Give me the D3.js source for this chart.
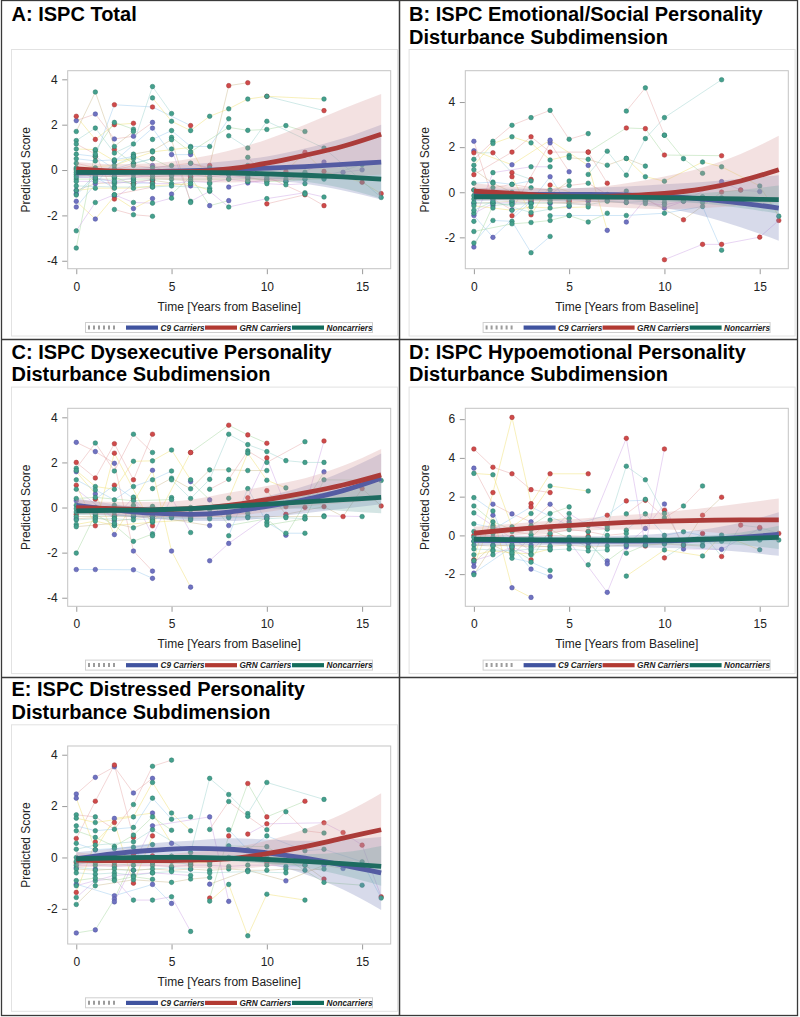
<!DOCTYPE html>
<html>
<head>
<meta charset="utf-8">
<script src="https://cdn.jsdelivr.net/npm/d3@7"></script>
<style>
  body { margin: 0; background: #fff; }
  svg text { font-family: "Liberation Sans", Arial, sans-serif; }
  .title { font-size: 20px; font-weight: bold; fill: #000; }
  .tick text { font-size: 12px; fill: #222; }
  .axis_tag { font-size: 12px; fill: #222; }
  .leg { font-size: 8.2px; font-weight: bold; font-style: italic; fill: #222; }
</style>
</head>
<body>
<div class="chart"></div>
<script>
// ---- shared ----
const xTicks = [0, 5, 10, 15];
const fitT = [0, 2, 4, 6, 8, 10, 12, 14, 16];
const groupNames = ["C9 Carriers", "GRN Carriers", "Noncarriers"];

// ---- A: ISPC Total ----
const titleA = ["A: ISPC Total"];
const yTicksA = [-4, -2, 0, 2, 4];
const aC9 = [
  [[0,2.18],[1,2.47],[2,1.37],[3,1.49],[4,2.1]],
  [[0,-1.38],[1,-2.16],[2,-1.16],[3,-1.7],[4,-1.26]],
  [[0,-1.63],[2,0.38],[4,1.85],[5,0.68],[6,0.68]],
  [[5,-1.06],[6,-0.3],[7,-1.57],[8,-1.35]],
  [[8,-0.75],[9,-0.57],[10,-0.4],[14,-0.1],[15,0.01]],
  [[0,-0.9],[1,-0.6],[2,-0.55],[3,-0.5],[4,-0.45],[6,-0.7]],
  [[0,-1.05],[1,-0.2],[3,0.6],[4,0.2],[5,-0.2]],
  [[6,0.3],[8,-0.2],[9,-0.35],[11,-0.5],[13,0.35]]
];
const aGRN = [
  [[0,2.37],[1,1.35],[2,2.0],[3,2.06]],
  [[1,0.6],[2,2.88],[4,2.78],[6,1.96]],
  [[2,0.9],[3,0.28],[4,0.5],[6,-0.3]],
  [[2,-1.28],[3,-0.6],[4,-0.4]],
  [[7,0.2],[8,3.72],[9,3.85]],
  [[10,3.25],[13,2.62]],
  [[10,-1.49],[12,-1.09],[13,-1.57]],
  [[11,-0.06],[12,0.78],[13,-0.06],[15,-0.54],[16,-1.04]],
  [[0,0.05],[1,-0.4],[3,-0.6],[4,-0.55]]
];
const aNC = [
  [[0,-3.44],[1,0.85],[2,2.1],[3,1.8]],
  [[0,-2.68],[1,-1.43],[2,-1.09],[3,-1.43],[4,-1.46],[5,-1.24]],
  [[0,1.7],[1,3.44],[2,1.04],[3,1.7]],
  [[0,1.3],[1,1.85],[2,0.75],[3,1.15],[4,3.68],[5,2.49]],
  [[2,-1.74],[3,-1.97],[4,-2.04]],
  [[4,3.18],[5,2.15],[6,1.74],[7,2.37],[8,2.7],[9,3.13],[10,3.25],[13,3.13]],
  [[4,1.35],[5,1.74],[6,1.04],[7,1.04],[8,2.26]],
  [[5,1.44],[6,0.8],[8,1.88],[9,1.75],[10,1.79],[11,1.96],[12,1.7]],
  [[5,0.93],[6,-1.38],[7,-0.94],[8,-1.63],[10,-1.26],[12,-1.0],[13,-1.19]],
  [[3,0.7],[4,0.85],[5,1.34],[6,-1.43]],
  [[8,1.51],[9,0.97],[10,2.15],[13,0.97],[16,-1.21]],
  [[9,0.56],[10,-0.3],[12,-1.06]],
  [[0,0.93],[1,0.9],[2,0.4],[3,0.5]],
  [[0,0.7],[1,0.6],[2,0.05],[3,0.3],[4,0.5]],
  [[0,-0.4],[1,-0.4],[2,-0.4],[3,-0.4],[4,-0.4],[5,-0.4],[6,-0.4],[7,-0.4],[8,-0.4],[9,-0.4],[10,-0.4],[11,-0.4],[12,-0.4],[13,-0.4]],
  [[0,-0.5],[1,-0.5],[2,-0.6],[3,-0.5],[4,-0.6],[5,-0.6],[6,-0.5],[7,-0.55],[8,-0.4],[9,-0.5],[10,-0.5]],
  [[0,-0.2],[1,-0.25],[2,-0.3],[3,-0.2],[4,-0.3],[5,-0.25],[6,-0.2],[7,-0.3],[8,-0.2]],
  [[0,-0.7],[2,-0.75],[4,-0.75],[5,-0.7],[7,-0.8]],
  [[0,0.3],[1,0.1],[2,0.0],[3,0.2],[4,0.1],[5,0.2],[6,0.3],[7,0.1]],
  [[0,-0.9],[1,-0.8],[3,-0.8],[4,-0.7],[6,-0.6],[7,-0.9]],
  [[0,0.5],[1,0.4],[2,0.45],[3,0.6]],
  [[9,-0.3],[10,-0.5],[11,-0.5],[12,-0.4],[13,-0.35]],
  [[9,-0.5],[10,-0.6],[11,-0.65],[12,-0.6]],
  [[0,-0.1],[1,-0.1],[2,-0.15],[3,-0.1],[5,-0.1],[6,-0.1],[7,-0.15],[8,-0.1],[9,-0.15]],
  [[9,0.2],[11,-0.2],[12,-0.1],[13,-0.3],[15,0.24]],
  [[0,1.15],[1,0.7],[2,-1.09],[4,-0.75]],
  [[0,0.1],[2,0.2],[4,0.8],[6,1.0],[7,-0.6]],
  [[0,-1.1],[1,-0.3],[2,-0.8]],
  [[0,0.0],[1,0.0],[2,-0.3],[3,-0.65]],
  [[0,-0.3],[1,-0.35],[2,-0.5],[3,-0.35],[4,-0.2]]
];
const aFitC9 = [-0.12, -0.1, -0.07, -0.03, 0.02, 0.08, 0.15, 0.25, 0.35];
const aFitGRN = [0.05, -0.05, -0.08, -0.07, 0.05, 0.3, 0.65, 1.05, 1.58];
const aFitNC = [-0.1, -0.1, -0.1, -0.1, -0.12, -0.17, -0.23, -0.3, -0.4];
const aBandC9 = [[-0.35,0.1],[-0.3,0.1],[-0.3,0.15],[-0.3,0.25],[-0.35,0.4],[-0.45,0.6],[-0.6,0.95],[-0.9,1.4],[-1.3,2.0]];
const aBandGRN = [[-0.25,0.35],[-0.3,0.25],[-0.4,0.3],[-0.5,0.5],[-0.55,0.85],[-0.5,1.35],[-0.4,2.0],[-0.3,2.7],[-0.2,3.35]];
const aBandNC = [[-0.2,0.0],[-0.18,-0.02],[-0.18,-0.02],[-0.2,0.0],[-0.25,0.02],[-0.35,0.02],[-0.5,0.05],[-0.8,0.15],[-1.25,0.45]];

// ---- B: Emotional/Social ----
const titleB = ["B: ISPC Emotional/Social Personality", "Disturbance Subdimension"];
const yTicksB = [-2, 0, 2, 4];
const bC9 = [
  [[0,2.26],[1,-0.3],[2,-0.78],[4,2.19],[5,0.91]],
  [[0,1.84],[2,1.22],[4,2.31],[6,1.19],[7,-1.69]],
  [[0,-1.03],[1,-2.0],[3,-0.4],[4,0.69],[5,-0.63]],
  [[0,-2.43],[1,-0.6],[2,-0.5],[3,-0.45]],
  [[8,-1.32],[9,-0.3],[10,-0.7],[11,-0.4],[13,0.47],[14,0.1],[15,0.03]],
  [[0,-0.5],[1,-0.45],[2,-0.4],[4,-0.5],[6,-0.4],[8,-0.45]]
];
const bGRN = [
  [[0,1.75],[1,1.75],[2,0.87],[3,0.57]],
  [[0,0.78],[2,1.78],[3,2.46],[4,1.78],[6,1.78],[7,0.4]],
  [[2,0.69],[3,-1.0],[4,0.32],[6,-0.3]],
  [[2,-1.04],[3,-0.3],[5,-0.4]],
  [[6,1.78],[8,2.85],[9,2.82],[10,1.65],[13,1.62]],
  [[10,-2.99],[12,-2.31],[13,-2.31],[15,-1.99],[16,-1.25]],
  [[9,-0.3],[11,-1.22],[13,0.01],[14,0.1]],
  [[0,0.1],[1,-0.1],[3,-0.35],[5,-0.35]]
];
const bNC = [
  [[0,1.46],[1,2.26],[2,2.97],[3,3.31],[4,3.63],[5,2.35],[6,2.6]],
  [[0,1.2],[1,2.16],[2,2.46],[3,2.19],[4,1.43],[5,1.63]],
  [[0,-2.25],[1,-1.25],[2,-1.29],[3,-2.68],[4,-1.96]],
  [[0,-1.74],[2,-1.4],[3,-1.34],[4,-1.25],[5,-1.03],[6,-1.32],[7,-0.93]],
  [[0,-1.29],[1,0.87],[3,1.13],[4,1.13]],
  [[5,1.53],[6,1.46],[7,1.2],[8,1.5],[9,1.16]],
  [[6,0.79],[7,1.82],[8,0.76],[9,2.38],[10,3.31],[13,4.99]],
  [[8,3.6],[9,4.63],[10,2.53]],
  [[8,1.5],[9,0.69],[10,0.49],[12,1.34],[13,1.13],[15,0.28],[16,-1.06]],
  [[4,-1.04],[5,-1.03],[8,-1.03],[10,-0.93],[12,-0.63],[13,-2.57]],
  [[10,2.53],[11,1.49],[12,0.84]],
  [[0,-0.93],[1,-0.5],[2,-0.45],[3,-0.5]],
  [[0,-0.3],[1,-0.3],[2,-0.35],[3,-0.3],[4,-0.35],[5,-0.3],[6,-0.3],[7,-0.35],[8,-0.3],[9,-0.35],[10,-0.3],[11,-0.35],[12,-0.3]],
  [[0,-0.45],[1,-0.5],[2,-0.55],[3,-0.5],[4,-0.45],[5,-0.5],[6,-0.55],[7,-0.4],[8,-0.45],[9,-0.4],[10,-0.45]],
  [[0,0.1],[1,0.2],[2,0.35],[3,0.2],[4,0.1],[5,0.3],[6,0.4],[7,-0.1],[8,0.05]],
  [[0,-0.6],[1,-0.7],[2,-0.8],[3,-0.65],[4,-0.7],[6,-0.65]],
  [[0,0.4],[1,0.45],[2,0.35],[3,0.5]],
  [[0,-0.15],[1,-0.1],[2,-0.2],[3,-0.15],[4,-0.2],[5,-0.1],[6,-0.2],[7,-0.15],[8,-0.2],[9,-0.15],[10,-0.2],[11,-0.25],[12,-0.2],[13,-0.25]],
  [[9,-0.5],[10,-0.55],[11,-0.4],[12,-0.45],[13,-0.35]],
  [[0,1.0],[1,0.4],[2,0.0],[4,-0.1],[5,0.5]],
  [[0,-0.8],[1,-0.4],[3,-0.9],[5,-0.6]]
];
const bFitC9 = [-0.1, -0.1, -0.1, -0.1, -0.12, -0.17, -0.3, -0.48, -0.7];
const bFitGRN = [0.05, -0.05, -0.15, -0.2, -0.15, -0.05, 0.15, 0.5, 1.0];
const bFitNC = [-0.2, -0.2, -0.2, -0.2, -0.22, -0.24, -0.27, -0.3, -0.33];
const bBandC9 = [[-0.4,0.2],[-0.35,0.15],[-0.35,0.15],[-0.4,0.2],[-0.5,0.25],[-0.7,0.35],[-1.05,0.45],[-1.55,0.6],[-2.15,0.75]];
const bBandGRN = [[-0.3,0.4],[-0.35,0.25],[-0.45,0.15],[-0.6,0.2],[-0.7,0.4],[-0.75,0.7],[-0.7,1.1],[-0.6,1.7],[-0.45,2.5]];
const bBandNC = [[-0.3,-0.1],[-0.28,-0.12],[-0.28,-0.12],[-0.3,-0.12],[-0.33,-0.1],[-0.4,-0.08],[-0.5,-0.03],[-0.7,0.1],[-0.95,0.3]];

// ---- C: Dysexecutive ----
const titleC = ["C: ISPC Dysexecutive Personality", "Disturbance Subdimension"];
const yTicksC = [-4, -2, 0, 2, 4];
const cC9 = [
  [[0,2.89],[1,2.48],[2,1.96],[3,-1.93],[4,-2.82]],
  [[0,1.59],[1,0.6],[2,-1.2],[4,1.65],[5,-1.93],[6,-3.53]],
  [[0,-2.75],[1,-2.75],[3,-2.76],[4,-3.14]],
  [[6,1.15],[7,0.34],[8,-0.8],[10,-0.5],[11,-1.23],[13,1.58]],
  [[7,-2.36],[8,-1.59],[10,-0.4]],
  [[0,-0.5],[1,-0.45],[2,-0.6],[4,-0.4],[7,-0.8]],
  [[0,0.3],[1,-0.2],[3,-0.4],[5,-0.3]]
];
const cGRN = [
  [[0,2.0],[1,1.31],[2,2.83],[3,1.23],[4,3.25]],
  [[0,0.99],[1,-0.81],[2,2.41],[4,-0.81],[6,2.44]],
  [[1,0.37],[2,0.99],[3,0.4],[4,-0.5]],
  [[6,2.44],[8,3.65],[9,3.22],[10,2.85]],
  [[9,0.43],[10,2.2],[11,0.04],[12,0.01],[13,2.95]],
  [[10,0.75],[11,-0.3],[13,0.04],[14,-0.4],[15,0.84],[16,0.07]],
  [[0,-0.3],[2,-0.35],[4,-0.4],[6,-0.45]]
];
const cNC = [
  [[0,1.74],[1,2.86],[2,1.62],[3,3.25],[4,2.44]],
  [[0,1.64],[1,0.93],[2,0.81],[3,2.05],[4,2.07],[5,2.55],[6,1.23]],
  [[0,1.23],[1,0.78],[2,0.34],[3,0.93],[4,1.23],[5,1.62]],
  [[0,-2.02],[1,-0.3],[2,-0.78],[3,-1.5],[4,-1.17]],
  [[0,0.81],[2,-0.5],[3,0.46],[4,-1.25],[5,0.44],[6,-1.11]],
  [[4,0.84],[5,1.3],[6,0.83],[7,1.67],[8,1.67],[9,1.64],[10,1.64]],
  [[5,1.23],[6,0.4],[7,1.25],[8,3.25],[9,2.79],[10,2.48],[11,2.08],[12,2.0],[13,2.0]],
  [[7,0.81],[8,1.25],[9,2.51],[10,2.0],[12,2.92]],
  [[8,0.41],[9,2.41],[10,1.21],[11,0.87]],
  [[8,-1.25],[9,0.84],[10,-0.66],[11,-1.14],[12,-1.14]],
  [[10,-0.78],[12,-0.5],[13,1.23],[16,1.2]],
  [[13,-0.37],[15,-0.4]],
  [[0,-0.4],[1,-0.4],[2,-0.4],[3,-0.4],[4,-0.4],[5,-0.4],[6,-0.4],[7,-0.4],[8,-0.4],[9,-0.4],[10,-0.4],[11,-0.4],[12,-0.4],[13,-0.4]],
  [[0,-0.55],[1,-0.5],[2,-0.5],[3,-0.55],[4,-0.5],[5,-0.45],[6,-0.5],[7,-0.5],[8,-0.45],[9,-0.45],[10,-0.5],[11,-0.45],[12,-0.5]],
  [[0,-0.2],[1,-0.25],[2,-0.2],[3,-0.3],[4,-0.25],[5,-0.2],[6,-0.25],[7,-0.3],[8,-0.3],[9,-0.25]],
  [[0,-0.75],[1,-0.6],[2,-0.8],[4,-0.65],[6,-0.55]],
  [[0,0.1],[1,0.0],[2,0.1],[3,-0.05],[4,0.05],[5,-0.1],[6,0.0],[7,-0.1]],
  [[0,0.4],[1,0.45],[3,0.3],[5,0.35]],
  [[0,-0.05],[1,-0.1],[2,-0.1],[3,0.1],[4,-0.15]],
  [[0,-0.85],[2,-0.7],[3,-0.9],[4,-0.6]]
];
const cFitC9 = [0.1, -0.1, -0.25, -0.3, -0.2, 0.05, 0.35, 0.75, 1.3];
const cFitGRN = [0.0, -0.05, -0.1, -0.05, 0.1, 0.35, 0.65, 1.0, 1.45];
const cFitNC = [-0.15, -0.12, -0.1, -0.05, 0.05, 0.15, 0.25, 0.35, 0.45];
const cBandC9 = [[-0.25,0.4],[-0.35,0.15],[-0.5,0.0],[-0.6,0.0],[-0.6,0.15],[-0.45,0.5],[-0.25,0.95],[-0.05,1.6],[0.15,2.4]];
const cBandGRN = [[-0.3,0.35],[-0.35,0.25],[-0.4,0.25],[-0.45,0.35],[-0.4,0.65],[-0.2,0.95],[0.05,1.3],[0.2,1.85],[0.35,2.6]];
const cBandNC = [[-0.3,0.0],[-0.25,0.0],[-0.2,0.0],[-0.15,0.05],[-0.1,0.2],[-0.05,0.35],[-0.05,0.55],[-0.15,0.8],[-0.25,1.15]];

// ---- D: Hypoemotional ----
const titleD = ["D: ISPC Hypoemotional Personality", "Disturbance Subdimension"];
const yTicksD = [-2, 0, 2, 4, 6];
const dC9 = [
  [[0,3.47],[1,1.61],[2,1.11],[3,0.7],[4,1.61],[5,0.7]],
  [[0,-1.6],[1,1.04],[2,-2.7],[3,-3.2]],
  [[0,-1.95],[2,-0.6],[3,-1.74],[4,-2.12]],
  [[6,-0.4],[7,-1.32],[8,-0.6]],
  [[5,-0.3],[7,-2.94],[8,-0.5],[9,0.36],[10,1.62],[11,-0.7],[13,-0.72],[15,0.36]],
  [[0,-1.4],[1,-0.5],[2,-0.55],[3,-0.5],[4,-0.6]],
  [[0,-0.3],[2,-0.3],[4,-0.3],[6,-0.3],[7,-1.47]]
];
const dGRN = [
  [[0,4.46],[1,3.52],[2,3.18],[3,2.36],[4,2.21]],
  [[0,-1.26],[1,2.21],[2,6.09],[3,1.64],[4,3.18],[6,3.18]],
  [[1,0.3],[3,1.47],[5,0.5],[7,1.04],[8,1.78],[9,1.81]],
  [[2,-0.7],[3,-1.26],[4,0.3],[6,-0.6]],
  [[6,0.2],[8,5.01],[9,-0.55],[10,4.46]],
  [[10,1.3],[11,-0.5],[12,1.04],[13,1.97]],
  [[10,-1.16],[12,0.1],[13,-1.09],[14,0.53],[15,0.41],[16,0.1]],
  [[0,0.0],[2,-0.1],[4,0.0],[6,-0.05]]
];
const dNC = [
  [[0,3.2],[1,3.13],[2,0.44],[3,1.13],[4,2.55],[6,2.29]],
  [[0,1.95],[1,1.26],[2,-1.18],[3,-1.38],[4,-1.81]],
  [[0,1.52],[1,0.7],[2,0.3],[3,0.5],[4,1.13],[5,1.47]],
  [[0,1.16],[1,0.5],[3,-0.8],[5,1.13],[6,0.51],[7,0.32]],
  [[0,-2.03],[1,-0.5],[2,-1.0],[4,0.79],[5,0.87]],
  [[6,-1.52],[7,0.45],[8,3.57],[9,2.87],[10,1.13]],
  [[8,1.11],[9,1.86],[10,0.9],[11,1.52],[12,2.55]],
  [[8,-2.1],[10,-0.75],[12,-1.06],[13,0.02],[15,-0.74]],
  [[8,0.27],[9,1.11],[10,0.0],[11,0.19],[13,-0.2],[15,-0.24],[16,-0.24]],
  [[8,-0.92],[9,-0.5],[10,-0.4],[12,-0.5]],
  [[0,-0.3],[1,-0.3],[2,-0.35],[3,-0.3],[4,-0.3],[5,-0.3],[6,-0.35],[7,-0.3],[8,-0.3],[9,-0.35],[10,-0.3],[11,-0.3],[12,-0.3],[13,-0.3]],
  [[0,-0.5],[1,-0.55],[2,-0.5],[3,-0.6],[4,-0.55],[5,-0.5],[6,-0.6],[7,-0.55],[8,-0.5],[9,-0.5],[10,-0.45],[11,-0.5],[12,-0.55]],
  [[0,-0.7],[1,-0.75],[2,-0.8],[3,-0.7],[4,-0.75],[5,-0.7],[6,-0.8],[7,-0.75]],
  [[0,0.2],[1,0.1],[2,0.2],[3,0.05],[4,0.1],[5,0.3],[6,0.2],[7,0.0],[8,0.1]],
  [[0,-1.0],[1,-0.8],[2,-0.9],[3,-0.95],[4,-0.7]],
  [[0,0.6],[1,0.4],[3,0.3],[4,0.4],[5,0.6]],
  [[0,-0.1],[1,-0.1],[2,-0.15],[3,-0.1],[4,-0.15],[5,-0.1],[6,-0.1],[7,-0.2],[8,-0.15],[9,-0.1],[10,-0.2]],
  [[0,-1.3],[1,-1.0],[2,-0.6],[3,-1.0]]
];
const dFitC9 = [-0.25, -0.27, -0.28, -0.3, -0.3, -0.28, -0.22, -0.1, 0.05];
const dFitGRN = [0.12, 0.3, 0.45, 0.57, 0.67, 0.74, 0.78, 0.8, 0.8];
const dFitNC = [-0.2, -0.22, -0.23, -0.24, -0.25, -0.24, -0.2, -0.16, -0.1];
const dBandC9 = [[-0.55,0.05],[-0.5,0.0],[-0.5,-0.05],[-0.55,-0.05],[-0.6,0.0],[-0.65,0.1],[-0.7,0.3],[-0.85,0.65],[-1.05,1.2]];
const dBandGRN = [[-0.2,0.45],[0.0,0.6],[0.15,0.75],[0.25,0.9],[0.3,1.05],[0.3,1.2],[0.2,1.4],[0.0,1.65],[-0.3,1.9]];
const dBandNC = [[-0.3,-0.1],[-0.3,-0.14],[-0.3,-0.16],[-0.31,-0.17],[-0.33,-0.17],[-0.35,-0.13],[-0.4,-0.02],[-0.5,0.15],[-0.7,0.5]];

// ---- E: Distressed ----
const titleE = ["E: ISPC Distressed Personality", "Disturbance Subdimension"];
const yTicksE = [-2, 0, 2, 4];
const eC9 = [
  [[0,2.47],[1,3.12],[2,3.53],[3,2.51],[4,3.08]],
  [[0,2.31],[1,0.3],[2,1.52],[4,1.73],[5,0.55]],
  [[0,-1.04],[2,-1.49],[4,-1.05],[5,-1.79]],
  [[0,-2.94],[1,-2.82],[2,-1.62],[3,0.0]],
  [[2,-1.73],[4,1.23],[7,1.58],[8,-1.71]],
  [[7,-1.04],[9,-0.5],[11,-0.91],[13,-0.3],[14,-0.43]],
  [[0,-0.4],[1,-0.45],[3,-0.5],[5,-0.4],[6,-0.45]]
];
const eGRN = [
  [[0,0.74],[1,2.19],[2,3.6],[3,0.78]],
  [[0,-1.36],[1,0.6],[2,1.36],[3,-1.0],[4,0.84]],
  [[3,0.12],[4,0.06],[6,-0.3]],
  [[7,-1.58],[8,0.84],[9,2.88],[10,1.58],[12,2.19]],
  [[9,0.91],[10,1.31],[13,1.35],[14,0.97],[15,0.48],[16,-1.53]],
  [[10,-0.2],[12,-0.3],[13,-0.84]],
  [[0,-0.2],[2,-0.3],[4,-0.2],[6,-0.25]]
];
const eNC = [
  [[0,1.66],[1,1.58],[2,1.1],[3,2.06],[4,3.55],[5,3.79]],
  [[0,1.53],[1,1.36],[3,1.58],[4,2.92],[5,1.73],[6,1.04]],
  [[0,1.23],[1,1.04],[3,1.17],[4,2.31],[5,1.49],[6,1.58]],
  [[0,1.04],[1,0.78],[2,0.43],[3,0.87],[4,1.58],[5,1.06]],
  [[0,-1.56],[1,-0.91],[2,-0.82],[3,-1.66],[4,-1.66],[5,-1.53],[6,-2.88]],
  [[0,-1.83],[1,-1.1],[3,-0.87],[5,-0.97],[6,-0.84],[7,-0.78]],
  [[0,0.32],[1,0.48],[3,0.61],[4,1.08],[6,0.19],[7,3.08],[8,2.45],[9,1.71],[10,2.92],[13,2.26]],
  [[7,1.09],[8,2.18],[9,1.6],[10,1.08],[11,1.78],[12,1.04],[13,0.95]],
  [[7,-1.7],[8,-1.05],[9,-3.05],[10,-1.43],[12,-1.66]],
  [[8,1.08],[9,0.3],[10,0.84],[12,0.26],[13,0.32],[15,-0.17],[16,-1.58]],
  [[8,0.45],[10,0.42],[13,-0.97],[15,-1.08]],
  [[0,-0.3],[1,-0.3],[2,-0.35],[3,-0.3],[4,-0.3],[5,-0.35],[6,-0.3],[7,-0.3],[8,-0.35],[9,-0.3],[10,-0.3],[11,-0.35],[12,-0.3]],
  [[0,-0.45],[1,-0.5],[2,-0.45],[3,-0.5],[4,-0.45],[5,-0.5],[6,-0.45],[7,-0.5],[8,-0.45],[9,-0.5],[10,-0.5],[11,-0.45],[12,-0.5],[13,-0.45]],
  [[0,-0.6],[1,-0.65],[2,-0.6],[3,-0.7],[4,-0.6],[5,-0.55],[7,-0.6],[9,-0.55],[11,-0.6]],
  [[0,0.0],[1,-0.05],[2,0.1],[3,0.0],[4,-0.1],[5,0.05],[6,0.0],[7,-0.05],[8,0.0],[9,-0.05],[10,0.0]],
  [[0,-0.15],[1,-0.2],[2,-0.2],[3,-0.15],[4,-0.2],[5,-0.15],[6,-0.2],[7,-0.2]],
  [[0,0.55],[1,0.3],[2,0.35],[3,0.4],[4,0.5]],
  [[0,-0.9],[1,-0.8],[2,-0.9],[3,-0.75],[4,-0.85]],
  [[0,-1.1],[2,-0.7],[4,-0.6],[6,-0.7]]
];
const eFitC9 = [-0.05, 0.15, 0.28, 0.35, 0.32, 0.18, -0.03, -0.3, -0.6];
const eFitGRN = [-0.1, -0.12, -0.12, -0.1, -0.05, 0.15, 0.42, 0.75, 1.08];
const eFitNC = [-0.05, -0.02, 0.0, 0.0, -0.03, -0.08, -0.15, -0.24, -0.35];
const eBandC9 = [[-0.3,0.2],[-0.05,0.35],[0.05,0.55],[0.1,0.65],[0.0,0.75],[-0.25,0.7],[-0.65,0.65],[-1.25,0.7],[-2.05,0.8]];
const eBandGRN = [[-0.4,0.2],[-0.35,0.1],[-0.35,0.1],[-0.4,0.2],[-0.45,0.35],[-0.35,0.65],[-0.2,1.1],[-0.15,1.7],[-0.3,2.5]];
const eBandNC = [[-0.15,0.05],[-0.1,0.07],[-0.1,0.1],[-0.1,0.1],[-0.15,0.1],[-0.25,0.1],[-0.4,0.12],[-0.7,0.2],[-1.1,0.45]];

// ---- layout ----
const colOff = [0, 397.6];
const rowOff = [0, 337.6, 675.3];
const plotL = 67.7, plotR = 390.7, plotT = 70.7, plotB = 268.7;

const panels = [
  {id: "A", col: 0, row: 0, title: titleA, yDom: [-4.35, 4.38], ticks: yTicksA, subj: [aC9, aGRN, aNC], fit: [aFitC9, aFitGRN, aFitNC], band: [aBandC9, aBandGRN, aBandNC]},
  {id: "B", col: 1, row: 0, title: titleB, yDom: [-3.39, 5.39], ticks: yTicksB, subj: [bC9, bGRN, bNC], fit: [bFitC9, bFitGRN, bFitNC], band: [bBandC9, bBandGRN, bBandNC]},
  {id: "C", col: 0, row: 1, title: titleC, yDom: [-4.38, 4.40], ticks: yTicksC, subj: [cC9, cGRN, cNC], fit: [cFitC9, cFitGRN, cFitNC], band: [cBandC9, cBandGRN, cBandNC]},
  {id: "D", col: 1, row: 1, title: titleD, yDom: [-3.66, 6.56], ticks: yTicksD, subj: [dC9, dGRN, dNC], fit: [dFitC9, dFitGRN, dFitNC], band: [dBandC9, dBandGRN, dBandNC]},
  {id: "E", col: 0, row: 2, title: titleE, yDom: [-3.37, 4.34], ticks: yTicksE, subj: [eC9, eGRN, eNC], fit: [eFitC9, eFitGRN, eFitNC], band: [eBandC9, eBandGRN, eBandNC]}
];

// colours
const ptFill = ["#6f72c0", "#cf4a4a", "#44a08d"];
const ptStroke = ["#4d509e", "#a33434", "#2c7a6b"];
const fitColor = ["#545ca2", "#ab3b39", "#1d6b60"];
const bandColor = ["#7c84b8", "#d89a9a", "#6fa8a6"];
const legColor = ["#40539f", "#b23a32", "#136c5c"];
const spag = ["#e6a8a8", "#f0df72", "#9ccbee", "#a6d6a0", "#cfa6e6", "#cdbb92", "#9fd3cf"];

let svg = d3.select("div.chart").append("svg").attr("width", 800).attr("height", 1017);

let x = d3.scaleLinear().domain([-0.45, 16.5]).range([plotL, plotR]);

panels.forEach(p => {
  let g = svg.append("g").attr("transform", `translate(${colOff[p.col]},${rowOff[p.row]})`);
  let y = d3.scaleLinear().domain(p.yDom).range([plotB, plotT]);

  // title
  let t = g.append("text").attr("class", "title").attr("x", 11.5).attr("y", 21);
  p.title.forEach((line, i) => {
    t.append("tspan").attr("x", 11.5).attr("dy", i == 0 ? 0 : 22.5).text(line);
  });

  // graph frame
  g.append("rect").attr("x", 11.5).attr("y", 49.5).attr("width", 386).attr("height", 286.5)
    .attr("fill", "#fff").attr("stroke", "#e2e2e2");

  // clip
  g.append("clipPath").attr("id", "clip" + p.id)
    .append("rect").attr("x", plotL).attr("y", plotT).attr("width", plotR - plotL).attr("height", plotB - plotT);

  let plot = g.append("g").attr("clip-path", `url(#clip${p.id})`);

  // spaghetti lines
  let line = d3.line().x(d => x(d[0])).y(d => y(d[1]));
  let all = [];
  p.subj.forEach((list, gi) => list.forEach(s => all.push({g: gi, pts: s})));
  plot.append("g").selectAll("path").data(all).enter()
    .append("path")
    .attr("d", d => line(d.pts))
    .attr("fill", "none")
    .attr("stroke", (d, i) => spag[i % spag.length])
    .attr("stroke-width", 0.8)
    .attr("opacity", 0.6);

  // points
  let pts = [];
  all.forEach(s => s.pts.forEach(v => pts.push({g: s.g, t: v[0], v: v[1]})));
  plot.append("g").selectAll("circle").data(pts).enter()
    .append("circle")
    .attr("cx", d => x(d.t))
    .attr("cy", d => y(d.v))
    .attr("r", 2.3)
    .attr("fill", d => ptFill[d.g])
    .attr("stroke", d => ptStroke[d.g])
    .attr("stroke-width", 0.5);

  // confidence bands
  p.band.forEach((b, gi) => {
    let area = d3.area().curve(d3.curveMonotoneX)
      .x((d, i) => x(fitT[i])).y0(d => y(d[0])).y1(d => y(d[1]));
    plot.append("path").attr("d", area(b))
      .attr("fill", bandColor[gi]).attr("fill-opacity", 0.3);
  });

  // fitted curves
  p.fit.forEach((f, gi) => {
    let fl = d3.line().curve(d3.curveMonotoneX).x((d, i) => x(fitT[i])).y(d => y(d));
    plot.append("path").attr("d", fl(f))
      .attr("fill", "none").attr("stroke", fitColor[gi]).attr("stroke-width", 4.8)
      .attr("stroke-linecap", "butt");
  });

  // plot border
  g.append("rect").attr("x", plotL).attr("y", plotT).attr("width", plotR - plotL).attr("height", plotB - plotT)
    .attr("fill", "none").attr("stroke", "#c4c4c4");

  // axes
  let yAxis = g.append("g").attr("transform", `translate(${plotL - 0.5},0)`)
    .call(d3.axisLeft(y).tickValues(p.ticks).tickSize(5).tickPadding(4.5).tickFormat(d3.format("d")));
  let xAxis = g.append("g").attr("transform", `translate(0,${plotB + 0.5})`)
    .call(d3.axisBottom(x).tickValues(xTicks).tickSize(5).tickPadding(8).tickFormat(d3.format("d")));
  [yAxis, xAxis].forEach(a => {
    a.select(".domain").remove();
    a.selectAll(".tick line").attr("stroke", "#9a9a9a");
    a.selectAll(".tick text").attr("font-family", null).attr("font-size", null);
  });
  yAxis.selectAll(".tick text").text(d => d < 0 ? "-" + Math.abs(d) : d);

  // axis titles
  g.append("text").attr("class", "axis_tag")
    .attr("transform", `translate(${29.5 + p.col * 1.5},${(plotT + plotB) / 2}) rotate(-90)`)
    .attr("text-anchor", "middle").text("Predicted Score");
  g.append("text").attr("class", "axis_tag")
    .attr("x", (plotL + plotR) / 2).attr("y", 310.5)
    .attr("text-anchor", "middle").text("Time [Years from Baseline]");

  // legend
  let lg = g.append("g");
  lg.append("rect").attr("x", 85.5).attr("y", 322.5).attr("width", 287).attr("height", 10)
    .attr("fill", "#fff").attr("stroke", "#cfcfcf");
  lg.append("line").attr("x1", 88).attr("x2", 116).attr("y1", 327.5).attr("y2", 327.5)
    .attr("stroke", "#9c9c9c").attr("stroke-width", 4).attr("stroke-dasharray", "2,3");
  const legX = [126, 205, 292];
  groupNames.forEach((name, gi) => {
    lg.append("rect").attr("x", legX[gi]).attr("y", 325.5).attr("width", 32).attr("height", 4.2)
      .attr("fill", legColor[gi]);
    lg.append("text").attr("class", "leg").attr("x", legX[gi] + 34.5).attr("y", 330.5).text(name);
  });
});

// table grid
const grid = svg.append("g").attr("stroke", "#3a3a3a").attr("fill", "none");
grid.append("rect").attr("x", 1.5).attr("y", 0.5).attr("width", 796).attr("height", 1015).attr("stroke-width", 1.3);
grid.append("line").attr("x1", 399.5).attr("x2", 399.5).attr("y1", 0).attr("y2", 1016).attr("stroke-width", 1.5);
grid.append("line").attr("x1", 1).attr("x2", 798).attr("y1", 339.5).attr("y2", 339.5).attr("stroke-width", 1.3);
grid.append("line").attr("x1", 1).attr("x2", 798).attr("y1", 677.5).attr("y2", 677.5).attr("stroke-width", 1.3);
</script>
</body>
</html>
